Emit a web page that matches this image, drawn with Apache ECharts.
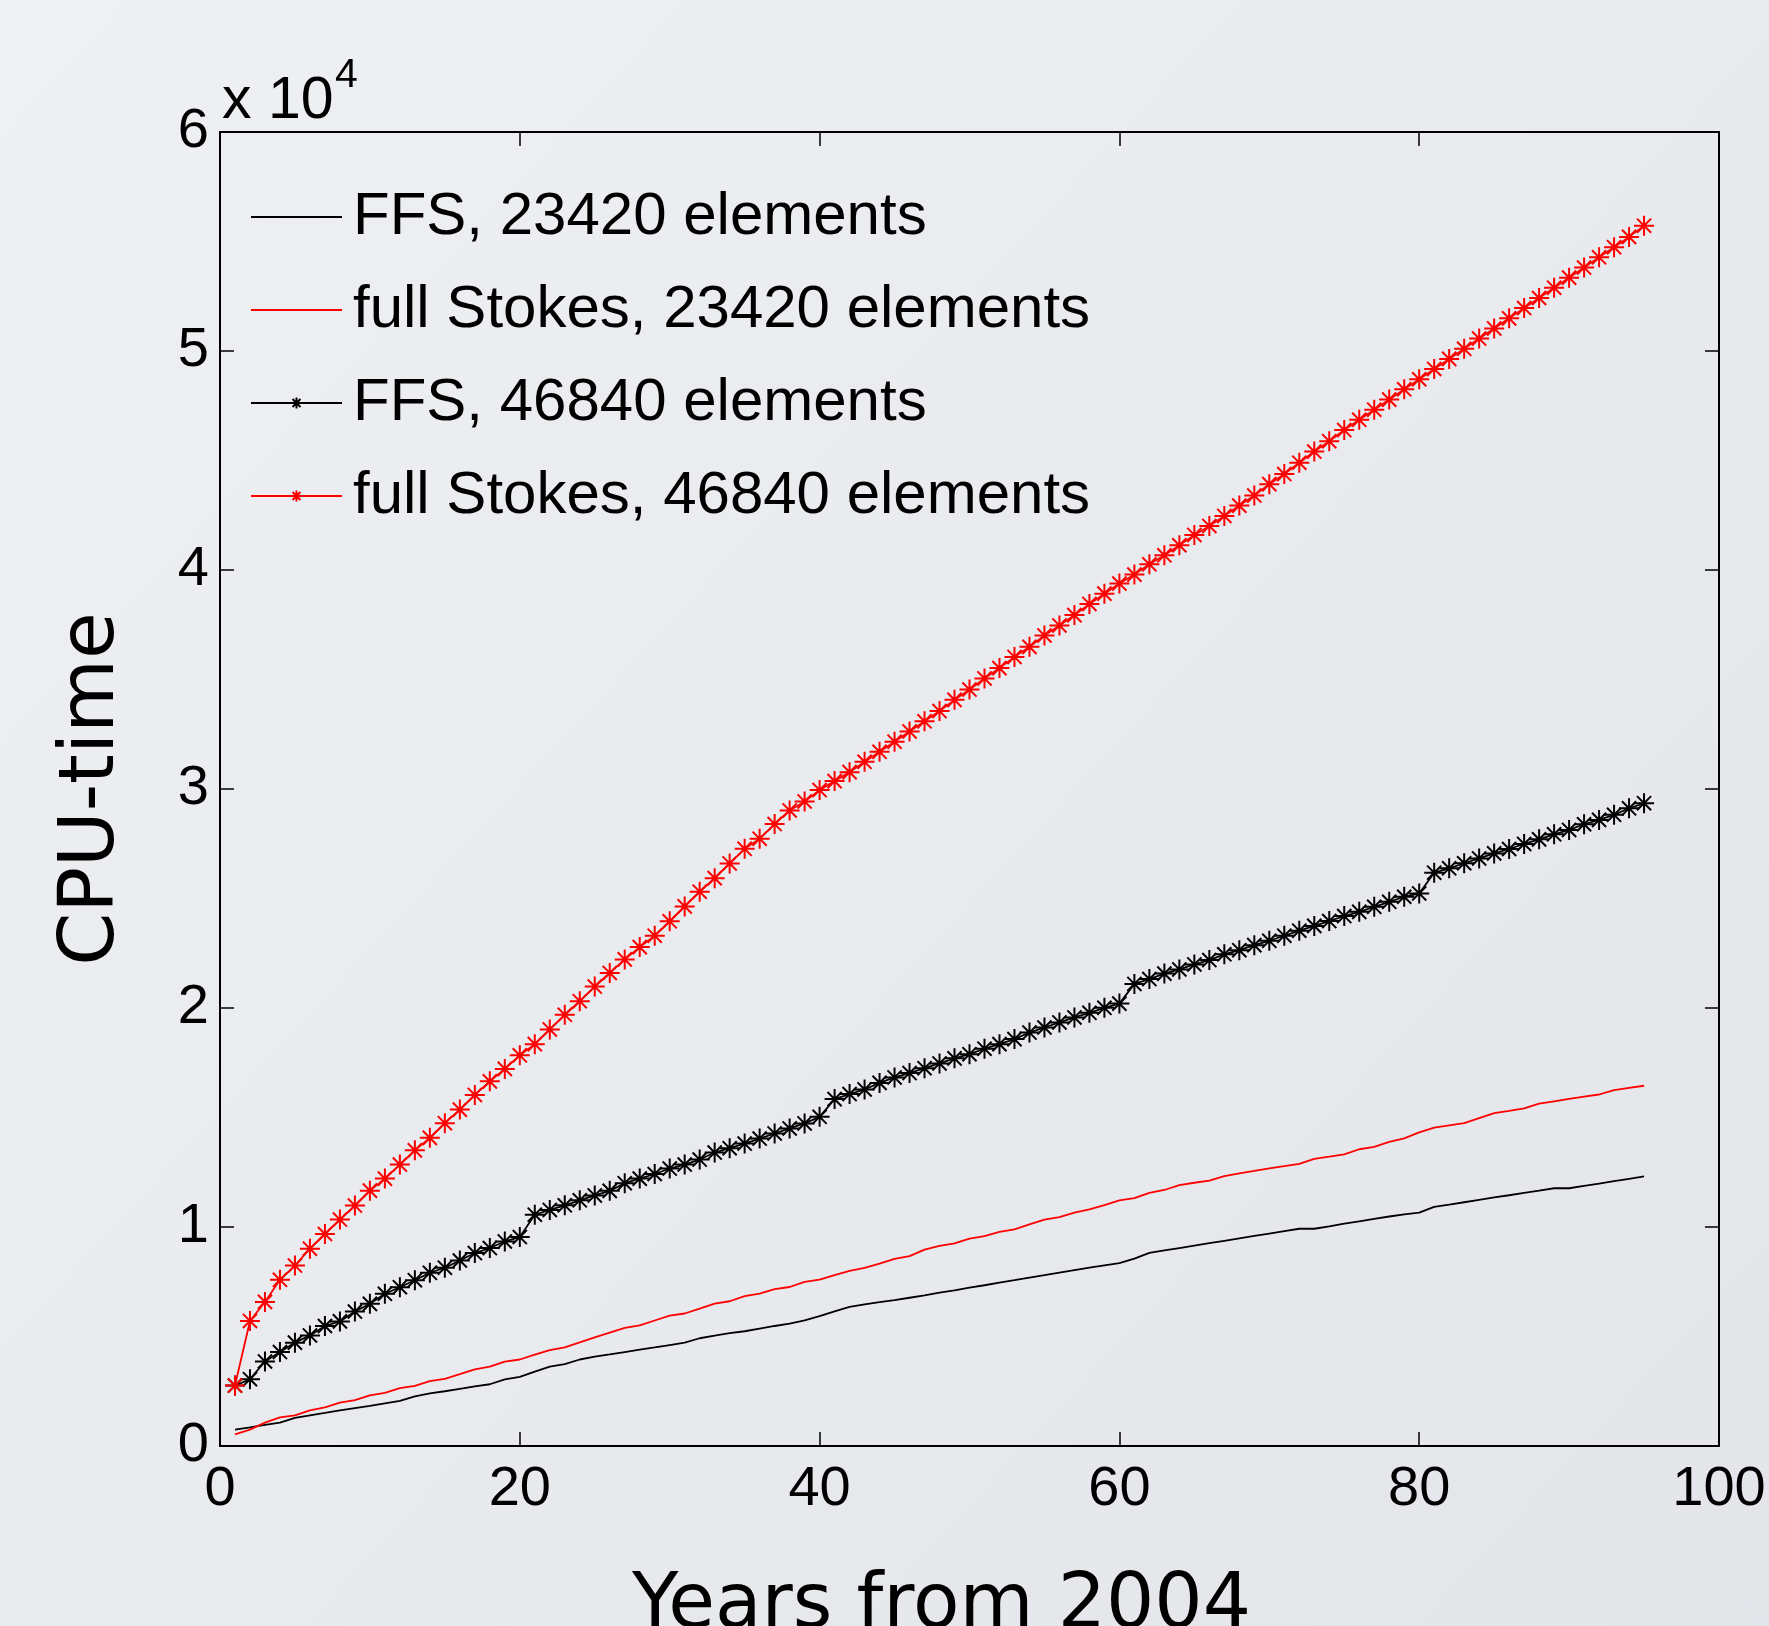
<!DOCTYPE html>
<html>
<head>
<meta charset="utf-8">
<script src="https://cdn.jsdelivr.net/npm/echarts@6/dist/echarts.min.js"></script>
<style>
  html, body { margin: 0; padding: 0; overflow: hidden; }
  #chart { width: 1769px; height: 1626px; }
</style>
</head>
<body>
<div id="chart"></div>
<script>
// years after 2004, one run per year
var years = [];
for (var i = 1; i <= 95; i++) years.push(i);

var xTicks = [0, 20, 40, 60, 80, 100];
var yTicks = [0, 1, 2, 3, 4, 5, 6];   // in units of 10^4

// CPU-time
var ffs23420 = [750, 850, 960, 1070, 1280, 1400, 1510, 1630, 1730, 1830,
    1950, 2060, 2270, 2400, 2500, 2610, 2720, 2820, 3040, 3160,
    3400, 3620, 3740, 3950, 4080, 4180, 4290, 4400, 4500, 4610,
    4720, 4920, 5040, 5150, 5240, 5360, 5480, 5590, 5740, 5930,
    6150, 6350, 6470, 6570, 6660, 6770, 6880, 7000, 7110, 7230,
    7340, 7460, 7570, 7690, 7800, 7920, 8030, 8140, 8250, 8350,
    8560, 8820, 8930, 9040, 9150, 9260, 9370, 9480, 9590, 9700,
    9810, 9920, 9920, 10030, 10150, 10260, 10370, 10480, 10580, 10660,
    10920, 11020, 11130, 11240, 11350, 11450, 11560, 11660, 11770, 11770,
    11880, 11980, 12090, 12200, 12310];

var fs23420 = [530, 750, 1070, 1310, 1400, 1630, 1760, 1980, 2090, 2310,
    2430, 2640, 2750, 2960, 3070, 3280, 3500, 3620, 3850, 3950,
    4170, 4380, 4500, 4730, 4960, 5180, 5390, 5510, 5730, 5950,
    6050, 6270, 6500, 6610, 6840, 6960, 7160, 7260, 7490, 7600,
    7800, 8000, 8130, 8330, 8540, 8670, 8970, 9140, 9250, 9470,
    9580, 9780, 9890, 10120, 10340, 10450, 10660, 10800, 11000, 11220,
    11320, 11560, 11690, 11910, 12020, 12120, 12320, 12450, 12560, 12680,
    12780, 12880, 13110, 13210, 13320, 13550, 13660, 13890, 14050, 14320,
    14540, 14640, 14740, 14970, 15200, 15300, 15420, 15630, 15740, 15850,
    15950, 16050, 16250, 16350, 16450];

var ffs46840 = [2760, 3050, 3860, 4290, 4720, 5050, 5480, 5690, 6140, 6490,
    6950, 7250, 7570, 7910, 8140, 8470, 8810, 9040, 9340, 9540,
    10560, 10780, 10990, 11220, 11440, 11650, 12000, 12210, 12420, 12670,
    12850, 13080, 13400, 13600, 13810, 14040, 14270, 14500, 14730, 15030,
    15840, 16070, 16280, 16580, 16830, 17030, 17250, 17470, 17700, 17890,
    18140, 18350, 18580, 18880, 19110, 19340, 19570, 19780, 20010, 20200,
    21100, 21320, 21570, 21760, 21990, 22190, 22450, 22640, 22870, 23070,
    23300, 23530, 23750, 23970, 24200, 24390, 24620, 24850, 25080, 25230,
    26180, 26380, 26610, 26830, 27060, 27260, 27490, 27700, 27930, 28130,
    28390, 28590, 28820, 29120, 29350];

var fs46840 = [2760, 5710, 6580, 7590, 8240, 9010, 9680, 10340, 10980, 11660,
    12210, 12850, 13500, 14070, 14740, 15360, 16030, 16650, 17220, 17840,
    18350, 19020, 19690, 20310, 20980, 21600, 22220, 22780, 23300, 23960,
    24640, 25310, 25930, 26600, 27270, 27730, 28400, 29020, 29430, 29950,
    30360, 30770, 31240, 31700, 32160, 32630, 33090, 33560, 34070, 34540,
    35050, 35520, 36030, 36490, 37010, 37470, 37940, 38450, 38920, 39380,
    39790, 40260, 40670, 41130, 41600, 42010, 42470, 42940, 43400, 43920,
    44380, 44900, 45410, 45880, 46390, 46860, 47320, 47780, 48250, 48710,
    49180, 49640, 50100, 50570, 51030, 51490, 51960, 52420, 52890, 53350,
    53810, 54280, 54740, 55210, 55720];

var names = ['FFS, 23420 elements', 'full Stokes, 23420 elements',
             'FFS, 46840 elements', 'full Stokes, 46840 elements'];

// matlab style '*' marker
var star = 'path://M0,-10L0,10M-10,0L10,0M-7.07,-7.07L7.07,7.07M-7.07,7.07L7.07,-7.07';

function pairs(vals) {
    return years.map(function (y, k) { return [y, vals[k]]; });
}

var tickFont = 'Liberation Sans';
var chart = echarts.init(document.getElementById('chart'));

function frameAxis(pos, isX) {
    return {
        type: 'value',
        position: pos,
        min: 0,
        max: isX ? 100 : 60000,
        interval: isX ? 20 : 10000,
        axisLine: {show: true, onZero: false, lineStyle: {color: '#000', width: 2}},
        axisTick: {show: true, inside: true, length: 14, lineStyle: {color: '#000', width: 1.5}},
        splitLine: {show: false},
        axisLabel: {show: false}
    };
}

var xBottom = frameAxis('bottom', true);
xBottom.axisLabel = {
    show: true, margin: 16, fontSize: 56, fontFamily: tickFont, color: '#000',
    formatter: function (v) { return xTicks.indexOf(v) >= 0 ? String(v) : ''; }
};
xBottom.name = 'Years from 2004';
xBottom.nameLocation = 'middle';
xBottom.nameGap = 123;
xBottom.nameTextStyle = {fontSize: 76, fontFamily: 'DejaVu Sans', color: '#000', padding: [0, 56, 0, 0]};

var yLeft = frameAxis('left', false);
yLeft.axisLabel = {
    show: true, margin: 11, fontSize: 56, fontFamily: tickFont, color: '#000',
    formatter: function (v) { return String(yTicks[Math.round(v / 10000)]); }
};
yLeft.name = 'CPU-time';
yLeft.nameLocation = 'middle';
yLeft.nameGap = 89;
yLeft.nameTextStyle = {fontSize: 76, fontFamily: 'DejaVu Sans', color: '#000'};

var option = {
    animation: false,
    backgroundColor: new echarts.graphic.LinearGradient(0, 0, 1, 1, [
        {offset: 0, color: '#eef0f3'},
        {offset: 1, color: '#e3e5ea'}
    ]),
    grid: {left: 220, right: 50, top: 132, bottom: 180, containLabel: false, outerBoundsMode: 'none'},
    xAxis: [xBottom, frameAxis('top', true)],
    yAxis: [yLeft, frameAxis('right', false)],
    legend: {
        orient: 'vertical',
        left: 250,
        top: 187,
        padding: 0,
        itemGap: 33,
        itemWidth: 91,
        itemHeight: 14,
        selectedMode: false,
        textStyle: {fontSize: 60, fontFamily: tickFont, color: '#000', padding: [0, 0, 0, 6]},
        data: [
            {name: names[0], itemStyle: {opacity: 0}},
            {name: names[1], itemStyle: {opacity: 0}},
            {name: names[2]},
            {name: names[3]}
        ]
    },
    graphic: [
        {type: 'text', left: 222, top: 72, style: {text: 'x 10', fontSize: 59, fontFamily: tickFont, fill: '#000'}},
        {type: 'text', left: 335, top: 55, style: {text: '4', fontSize: 41, fontFamily: tickFont, fill: '#000'}}
    ],
    series: [
        {
            name: names[0], type: 'line', data: pairs(ffs23420),
            symbol: 'none', lineStyle: {color: '#000', width: 1.8}, itemStyle: {color: '#000'}
        },
        {
            name: names[1], type: 'line', data: pairs(fs23420),
            symbol: 'none', lineStyle: {color: '#ff0000', width: 1.8}, itemStyle: {color: '#ff0000'}
        },
        {
            name: names[2], type: 'line', data: pairs(ffs46840),
            symbol: star, symbolSize: 20,
            lineStyle: {color: '#000', width: 1.8},
            itemStyle: {color: '#000', borderColor: '#000', borderWidth: 2}
        },
        {
            name: names[3], type: 'line', data: pairs(fs46840),
            symbol: star, symbolSize: 20,
            lineStyle: {color: '#ff0000', width: 1.8},
            itemStyle: {color: '#ff0000', borderColor: '#ff0000', borderWidth: 2}
        }
    ]
};
chart.setOption(option);
</script>
</body>
</html>
